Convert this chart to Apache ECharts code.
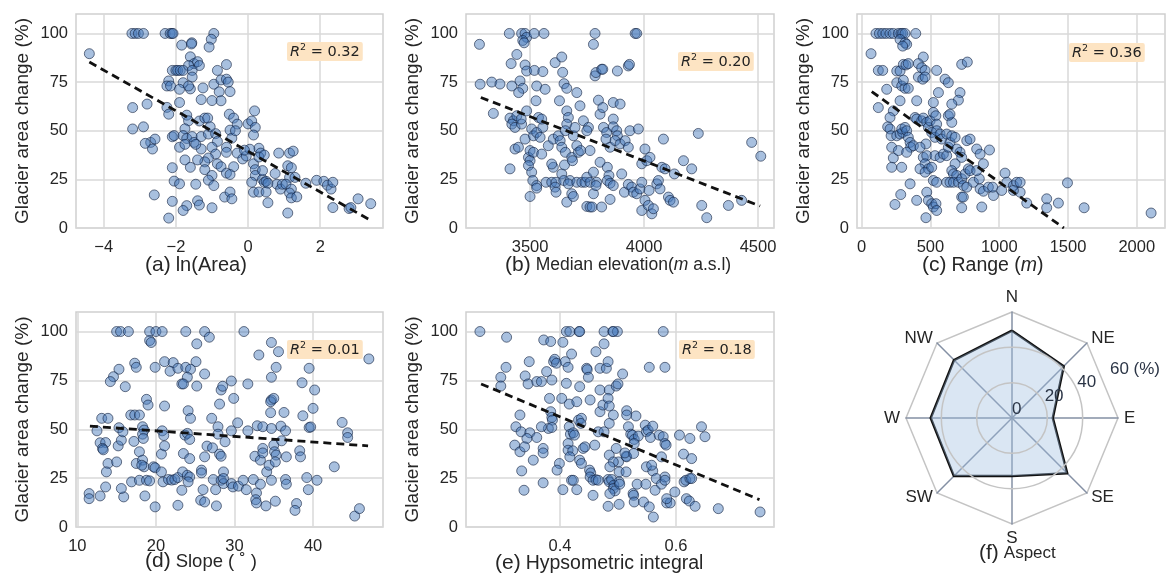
<!DOCTYPE html>
<html><head><meta charset="utf-8">
<script src="https://cdn.jsdelivr.net/npm/echarts@6/dist/echarts.min.js"></script>
<style>html,body{margin:0;padding:0;background:#fff}#c{width:1166px;height:574px}</style>
</head><body><div id="c"></div>
<script>
// ---------- DATA ----------
const yTicks = [0, 25, 50, 75, 100];
const lnAreaTicks = [-4, -2, 0, 2];
const elevTicks = [3500, 4000, 4500];
const rangeTicks = [0, 500, 1000, 1500, 2000];
const slopeTicks = [10, 20, 30, 40];
const hypsoTicks = [0.4, 0.6];

const r2Values = ['0.32', '0.20', '0.36', '0.01', '0.18'];

const lnAreaPts = [
[-3.22,100],[-3.13,100],[-3.04,100],[-2.9,100],[-2.3,100],[-2.16,100],[-2.11,100],[-2.08,100],[-0.95,100],
[-1.02,97],[-1.08,93],[-1.56,95.2],[-1.57,94.6],[-1.84,94],[-4.4,89.6],[-1.6,88],[-0.6,84],[-1.5,84.5],[-1.4,85.5],[-1.35,83.5],[-1.65,83.5],
[-2.1,81],[-2.0,81],[-1.95,81],[-1.88,81],[-1.8,81],[-1.55,81],[-0.85,81],[-1.55,77.6],[-2.2,75.6],[-2.25,73],[-2.15,73],[-1.8,74.7],[-1.9,71.3],[-1.6,71.5],[-1.65,73],[-1.25,72],[-0.95,73.9],[-0.75,76.1],[-0.6,76.5],[-0.55,75],[-0.5,70.1],[-0.8,70],[-0.75,65.4],[-1.0,65.5],[-1.3,66],[-1.9,64.5],[-3.2,61.9],[-2.8,63.7],[-2.25,62],[-2.2,58.5],[-1.7,58],[-1.65,55.1],[-1.35,55],[-1.2,56.5],[-1.12,56.5],[-0.52,58.5],[-0.4,56.5],[-0.3,53.4],[0.0,53.5],[0.1,55],[0.18,60.2],[0.2,51.7],[0.15,47.8],
[-3.2,50.9],[-2.9,52],[-2.7,44],[-2.85,43.5],[-2.58,45.7],[-2.65,40.6],[-2.1,46.9],[-2.05,47.5],[-1.75,51],[-1.8,47.5],[-1.7,46],[-1.55,47],[-1.5,44],[-1.3,47],[-1.1,48.3],[-1.05,52],[-0.9,48.5],[-0.85,44.5],[-0.5,50.3],[-0.45,46.2],[-0.35,50],[-0.6,41.5],[-0.6,38.9],[-0.3,38.5],[-0.15,35.5],[-0.05,37],[-1.3,40.6],[-1.45,43],[-1.9,41.5],[-1.75,43],[-1.0,41.5],[-0.9,38],[-0.85,33],[-0.75,31.5],[-1.1,36],[-1.2,34],[-1.4,35],[-1.75,35],[-1.6,31.2],[-2.1,31],[-1.2,30],[-0.4,31.5],[-0.6,28.2],[-0.5,27.5],[-1.0,27],[-1.1,24.6],[-0.95,21.8],[-2.05,24.1],[-1.9,22.7],[-1.45,22.5],[-0.65,15.9],[-0.5,18.5],[-0.45,15],[-2.6,17],[-2.1,13.7],[-1.4,14],[-1.35,11.8],[-1.7,11.5],[-1.8,9],[-1.0,10.4],[-2.2,5.1],
[0.15,33],[0.2,30],[0.3,41],[0.35,38.5],[0.3,36.5],[0.45,37.5],[0.2,27],[0.1,23.5],[0.15,18.4],[0.3,18.5],[0.4,25],[0.45,23.5],[0.5,24],[0.55,23],[0.5,18.5],[0.55,13],[0.75,28],[0.8,22.5],[0.9,20],[0.95,22.5],[0.85,38.5],[1.15,38.5],[1.25,39.5],[1.1,32],[1.2,31],[1.15,26],[1.05,22.5],[1.2,20],[1.15,18],[1.3,26],[1.2,15.5],[1.35,16],[1.1,7.7],[1.6,23],[1.9,24.5],[2.1,24],[2.2,22],[2.3,20],[2.35,23.5],[2.35,10.5],[2.8,10],[2.85,10.5],[3.05,15],[3.4,12.5],[0.05,40.5],[-0.1,40],[0.4,29.5]
];
const lnAreaFit = [[-4.4,85.3],[3.4,3.9]];

const elevPts = [
[3278,94.4],[3281,73.9],[3332,75],[3368,74],[3339,58.9],[3420,73],[3409,100],[3463,100],[3478,100],[3485,98],[3518,100],[3561,100],
[3468,96.4],[3474,95.2],[3442,89.2],[3417,84.5],[3478,83.8],[3485,80.7],[3456,75.6],[3468,71.8],[3450,69.6],
[3412,56.5],[3427,55.1],[3442,57.7],[3420,53.4],[3434,51.7],[3463,53.4],[3461,56],[3412,30.4],[3434,40.6],[3449,41.5],[3478,45.7],[3485,60.2],
[3493,36.3],[3500,34.6],[3493,32.1],[3500,39.8],[3515,38.9],[3507,28.7],[3512,24.4],[3529,21.8],[3529,20.5],[3500,16.2],[3507,50.9],[3515,47.4],[3529,49.1],[3544,46.6],[3556,51.7],[3537,56.8],
[3519,81],[3556,80.4],[3529,73],[3566,71.3],[3526,65.4],[3551,56],[3551,38],[3570,23.5],[3595,23.5],[3602,31.2],[3595,32.9],[3614,23.5],[3610,21],[3614,18.4],[3639,27.8],[3580,42.3],[3602,45.7],[3624,47.4],[3629,65.4],
[3610,85],[3639,87.9],[3643,80],[3649,74.2],[3661,71.8],[3661,60.2],[3668,56.8],[3661,53.4],[3655,50],[3632,44.9],[3639,41.5],[3655,38.9],[3651,32.4],[3648,24.4],[3675,24.4],[3668,22.7],[3683,17.6],[3661,13.3],[3690,16.2],
[3683,36.3],[3686,34.6],[3690,47.4],[3697,51.7],[3705,42.3],[3712,38.9],[3722,39.8],[3705,23.5],[3727,23.5],[3741,23.5],[3719,62.8],[3705,69.6],[3734,55.1],[3756,51.7],[3749,50],[3763,39.8],[3749,26.1],[3763,23.5],[3749,11.1],[3763,10.8],[3772,10.8],[3814,10.8],[3778,17.6],[3792,23.5],[3789,21.8],[3778,28.7],[3807,33.8],
[3778,94.4],[3785,100],[3785,78.2],[3789,79.9],[3814,81.6],[3819,81.6],[3800,65.7],[3807,58.5],[3819,61.9],[3822,51.7],[3836,49.1],[3833,45.7],[3851,41.5],[3839,31.2],[3846,27],[3839,24.4],[3851,23],[3865,21.8],[3851,14.7],
[3865,64.5],[3895,63.7],[3865,56],[3865,52],[3880,50],[3883,47.4],[3873,44.9],[3895,43.2],[3917,44.9],[3931,41.5],[3883,80.7],[3931,83.3],[3936,84.1],[3961,100],[3968,100],[3938,50],[3975,50.9],
[3902,27.8],[3914,18.4],[3931,22.4],[3946,21],[3953,18.4],[3968,17.6],[3982,20.1],[3990,23.5],[3990,33],[4004,40.6],[4012,34.6],[4026,36.3],[3990,9],[4004,14.2],[4019,11.6],[4034,7.3],[4041,9.9],[4022,19.3],[4056,22.7],[4063,24.4],[4070,20.1],[4078,31.2],[4085,45.7],[4092,30.4],[4107,15.9],[4114,14.2],[4129,13.3],[4133,27.8],[4173,34.6],[4209,30.4],[4238,48.6],[4253,11.6],[4275,5.3],[4370,11.6],[4428,14.2],[4472,44],[4512,36.9]
];
const elevFit = [[3284,67.1],[4509,11.3]];

const rangePts = [
[104,100],[129,100],[153,100],[177,100],[206,100],[230,100],[267,100],[286,100],[298,100],[315,100],[393,100],
[279,96.9],[315,95.2],[327,94.4],[298,93.5],[68,89.6],[448,87.9],[121,81],[153,81],[255,80.7],[279,80.7],[303,84.1],[322,83.8],[339,84.5],[412,84.5],[436,82.4],[461,81],[545,81],[412,77.6],[444,76.5],[461,77.6],[255,74.7],[291,73],[315,71.8],[339,71.8],[182,71.3],[303,76],[279,65.4],[400,65.4],[121,61.9],[230,60.2],[206,56.8],
[189,52],[206,50.9],[214,47.4],[218,41.5],[230,36],[267,39.8],[255,47.4],[279,48.3],[298,49.1],[291,50.9],[315,51.7],[327,50],[339,46.6],[352,44],[356,41.5],[376,42.3],[388,56.8],[400,56],[436,55.1],[448,56.5],[473,54.3],[485,51.7],[497,55.1],[521,59.4],[539,57.7],[545,53.4],[509,49.1],[533,46.6],[545,50],[570,48.3],[582,45.7],[467,43.2],[424,41.5],
[448,36.3],[473,37.2],[461,33],[424,30.4],[485,30.4],[461,28.7],[509,31.2],[521,24.4],[545,23.5],[533,37.2],[570,36.3],[594,38],[618,37.2],[630,41.5],[642,44],[618,48.3],[630,57.7],[655,54.3],[655,47.4],[558,69.6],[521,64.5],[473,18.4],[485,14.2],[509,12.5],[521,10.8],[540,12.5],[467,5.3],[545,9],[284,17.2],[352,22.7],[400,14.2],[242,12.1],[218,31.2],[291,31.2],[327,38.9],
[606,76.5],[630,74.7],[715,69.6],[703,65.7],[727,84.1],[768,85.3],[655,63.7],[642,58.5],[679,46.6],[691,40.6],[715,38.9],[727,36.3],[764,44.9],[788,45.7],[679,33],[655,29.5],[667,27.8],[691,27],[618,23.5],[642,23.5],[667,23.5],[703,23.5],[727,25.3],[739,21.8],[764,21],[752,27.8],[776,30.4],[788,29.5],[812,23.5],[727,15.9],[739,15.9],[727,10.4],
[836,40.6],[861,38],[885,33],[855,25.3],[836,29.5],[861,20.1],[885,18.9],[873,10.8],[921,21],[929,40.1],[958,16.7],[952,21],[1018,19.3],[1042,28.2],[1055,23.5],[1103,21.8],[1127,23.5],[1152,23.5],[1152,18.4],[1103,19.3],[1200,12.8],[1345,15],[1345,10.4],[1430,12.8],[1496,23.2],[1617,10.4],[2104,7.7]
];
const rangeFit = [[73,70.1],[1470,0]];

const slopePts = [
[15.0,100],[15.5,100],[16.5,100],[19.2,100],[20.0,100],[20.8,100],[23.8,100],[26.2,100],[31.2,100],
[26.8,97.1],[25.2,93.7],[19.2,95.4],[19.4,94.4],[34.7,94.4],[35.6,89.7],[33.1,88],[47.1,86],[19.9,81.7],[21.1,84.6],[22.2,84.1],[25.1,84.6],[17.3,83.8],[17.5,81.7],[15.3,80.7],[21.8,79.7],[22.8,81.2],[23.8,81.7],[24.4,80.7],[24,76.6],[23.3,73.2],[23.5,73.2],[25.2,72.1],[26.2,78.3],[14.6,76.9],[14.2,74.4],[16.1,71.8],[29.6,74.7],[28.3,70.1],[28.5,72],[31.7,73.2],[34.7,76.6],[35.3,81.7],[39.5,81.2],[38.6,73.8],[40.2,70.1],
[29.9,65.8],[28.1,62.9],[21.1,61.9],[18.8,65.3],[19,62.4],[34.7,65],[34.6,64.1],[35,65.8],[34.6,58.5],[36.3,58.6],[40,60.7],[38.7,56.9],[24.1,59.5],[24.4,55.6],[27.1,55.6],[30.4,53.3],[43.7,53.5],[32.9,51.8],[33.6,51.3],[35.9,51.6],[34.7,50.4],[39.5,50.9],[39.7,51.2],[31.7,49.2],[29.6,49.2],[27.9,51.3],[27.9,47.5],[36.5,49.2],[44.4,48.2],[44.4,45.8],
[13.1,55.6],[13.9,55.6],[12.5,49.2],[12.9,43.1],[13.6,43.2],[13.2,40.2],[13.3,39.5],[13.9,32.5],[13.7,28.2],[13.6,20.5],[11.5,17.1],[11.5,14.5],[12.9,15.9],[15.3,50.8],[15.2,41.5],[15.6,44.4],[15,33.3],[15.8,48.7],[16.8,57.3],[17.3,57.3],[17.9,57.3],[17.2,43.8],[17.5,32.5],[16.9,23.1],[17.9,23.9],[15.9,15.4],[15.6,19.7],[17.9,38.5],
[18.3,51.3],[18.5,49.6],[18.3,47.5],[18.4,45.3],[18.3,34.2],[18.5,30.8],[18.2,31.6],[18.8,23.9],[19.2,23.6],[18.6,15.9],[19.7,30.8],[19.9,30.3],[19.9,10.3],[20.8,49.2],[21,46.8],[20.7,37.3],[21.1,41.5],[20.7,28.2],[20.9,23.1],[21.6,24.3],[22,24],[22.4,24.3],[22.8,25.3],[22.8,11.1],[23.3,18.8],[23.5,37.6],[23.4,28.2],[23.7,47],[24,47.9],[24.3,44.8],[24.3,35],[24,26.5],[24.3,25.6],[24.1,23.1],
[25.8,29.1],[25.8,27.7],[25.7,13.7],[26.2,12.8],[26,19.1],[26.2,35.9],[26.5,41.4],[27.2,40.5],[27.3,24.3],[27.7,10.8],[27.6,19.1],[28.1,37.3],[28.3,23.9],[28.6,28.2],[28.6,22.2],[28.3,36.2],[28.8,43.6],[28.6,24.8],[29.6,22.2],[29.8,20.5],[30.5,20.9],[31.1,23.9],[31.5,19.1],[32.4,24.3],[32.6,36.2],[32.8,17.4],[32.7,14],[32.8,12.3],[33.3,21.9],[33.6,40.2],[33.3,34.2],[34,10.8],[33.6,37.9],[34.1,28.2],[34.4,31.6],[34.7,23.9],[35,41.9],[35.1,38.5],[35.3,36.8],[35.2,33.3],[35.2,13.2],[36.5,24.3],[36.6,21.9],[36.6,35.9],[36,44.1],[38.3,39],[38.4,35.9],[37.9,12],[37.7,8.5],[39.2,25.3],[39.4,19.1],[40.5,23.9],[42.7,30.8],[45.3,5.6],[45.9,9.4]
];
const slopeFit = [[11.6,51.6],[47,41.5]];

const hypsoPts = [
[0.262,100],[0.308,97.1],[0.307,81.7],[0.298,76.6],[0.298,72.1],[0.34,77.3],[0.347,84.6],[0.345,73.2],[0.36,74.4],[0.368,74.4],[0.372,95.7],[0.384,94.9],[0.389,84.6],[0.391,85.8],[0.394,83.8],[0.377,79.5],[0.386,75.2],
[0.405,94.5],[0.411,100],[0.417,100],[0.433,100],[0.434,100],[0.42,88.5],[0.409,84.6],[0.414,81.7],[0.446,81.2],[0.447,80.5],[0.449,76.6],[0.434,71.8],[0.411,73.5],[0.403,65.8],[0.416,62.9],[0.429,64.1],[0.452,65],[0.382,65.8],[0.384,59],[0.386,56.1],[0.387,54.7],[0.38,50.4],[0.386,50.9],[0.368,51.3],
[0.331,57.3],[0.324,51.3],[0.333,48.7],[0.348,48.2],[0.36,45.8],[0.343,45.3],[0.322,41.9],[0.331,38.5],[0.339,41],[0.371,40.2],[0.371,37.9],[0.354,34.2],[0.334,28.7],[0.371,22.6],[0.338,18.8],[0.399,32.5],[0.395,29.1],[0.405,19.1],
[0.416,51.3],[0.418,47.5],[0.423,48.2],[0.425,47],[0.414,42.7],[0.414,39.3],[0.422,39],[0.417,35.9],[0.42,23.9],[0.423,23.9],[0.429,19.1],[0.432,54.7],[0.437,55.6],[0.436,53],[0.44,40.2],[0.443,41],[0.434,34.2],[0.437,32.5],[0.451,29.1],[0.453,27.7],[0.452,25.6],[0.457,23.9],[0.462,24.2],[0.466,23.9],[0.457,16.2],[0.46,41.9],[0.466,48.7],[0.469,59],[0.474,62.4],[0.469,70.1],[0.469,81.2],
[0.476,93.7],[0.476,100],[0.491,100],[0.499,100],[0.492,100],[0.462,89.7],[0.48,81.2],[0.483,84.6],[0.485,70.1],[0.483,65.8],[0.485,61.9],[0.497,72.1],[0.5,73.2],[0.508,78.3],[0.485,53],[0.492,57.3],[0.476,48.7],[0.485,36.8],[0.497,40.2],[0.501,33.3],[0.492,33.3],[0.486,30.8],[0.483,24.3],[0.485,23.1],[0.489,24.3],[0.493,21.4],[0.492,19.7],[0.495,18.5],[0.486,17.1],[0.502,23.1],[0.503,21.9],[0.502,28.2],[0.483,10.6],[0.502,11.6],
[0.514,36.2],[0.515,35.9],[0.512,37.9],[0.514,28.2],[0.515,59.5],[0.515,57.3],[0.518,51.3],[0.522,47.5],[0.525,47],[0.528,44.8],[0.531,56.8],[0.535,46.5],[0.527,37.6],[0.528,42.7],[0.526,17.1],[0.527,16.2],[0.528,12.8],[0.533,21.9],[0.544,12.8],[0.548,21.9],[0.549,30.8],[0.547,52.1],[0.549,48.7],[0.552,49.5],[0.56,51.6],[0.554,10.3],[0.561,5.1],[0.564,18.8],[0.56,28.7],[0.558,31.6],[0.556,45.8],[0.566,24.8],[0.575,35.9],[0.575,21.9],[0.571,47],[0.578,46.2],[0.581,42.7],[0.583,41.9],[0.581,25.6],[0.581,23.9],[0.584,12.3],[0.59,12.3],[0.584,14.5],[0.578,100],[0.581,81.7],[0.554,81.7],
[0.598,17.9],[0.606,47],[0.613,37.3],[0.614,23.1],[0.617,23.9],[0.624,24.8],[0.627,24.8],[0.624,45.3],[0.627,35],[0.618,14.5],[0.623,13.3],[0.633,10.6],[0.644,51.3],[0.65,46.2],[0.673,9.4],[0.745,7.7]
];
const hypsoFit = [[0.264,73.2],[0.744,14]];

const aspectNames = ['N', 'NW', 'W', 'SW', 'S', 'SE', 'E', 'NE'];
const aspectValues = [49.4, 46.4, 46.0, 46.5, 32.9, 44.2, 23.1, 41.4];

// ---------- CHART ----------
const FONT = "'Liberation Sans', Arial, Helvetica, sans-serif";
const TXT = '#262626';

const grids = [
  {left: 76, top: 14, width: 307, height: 214},
  {left: 466, top: 14, width: 308, height: 214},
  {left: 857, top: 14, width: 308, height: 214},
  {left: 76, top: 312, width: 307, height: 215},
  {left: 466, top: 312, width: 308, height: 215}
];
const xRanges = [[-4.77, 3.74], [3219, 4570], [-34, 2205], [9.83, 48.9], [0.238, 0.769]];
const xTickSets = [lnAreaTicks, elevTicks, rangeTicks, slopeTicks, hypsoTicks];
const ptSets = [lnAreaPts, elevPts, rangePts, slopePts, hypsoPts];
const fitSets = [lnAreaFit, elevFit, rangeFit, slopeFit, hypsoFit];

const minus = v => String(v).replace('-', '\u2212');

const option = {
  backgroundColor: '#fff',
  animation: false,
  textStyle: {fontFamily: FONT},
  grid: grids.map(g => Object.assign({show: true, borderColor: '#cfcfcf', borderWidth: 1.5, backgroundColor: '#fff', containLabel: false}, g)),
  xAxis: grids.map((g, i) => ({
    type: 'value', gridIndex: i, min: xRanges[i][0], max: xRanges[i][1],
    axisLine: {show: false}, axisTick: {show: false, customValues: xTickSets[i]},
    axisLabel: {customValues: xTickSets[i], fontSize: 16.5, color: TXT, margin: 11, fontFamily: FONT, formatter: minus},
    splitLine: {show: true, lineStyle: {color: '#d9d9d9', width: 1.5}}
  })),
  yAxis: grids.map((g, i) => ({
    type: 'value', gridIndex: i, min: 0, max: 110,
    name: 'Glacier area change (%)', nameLocation: 'middle', nameGap: 44,
    nameTextStyle: {fontSize: 19, color: TXT, fontFamily: FONT},
    axisLine: {show: false}, axisTick: {show: false, customValues: yTicks},
    axisLabel: {customValues: yTicks, fontSize: 16.5, color: TXT, margin: 8, fontFamily: FONT},
    splitLine: {show: true, lineStyle: {color: '#d9d9d9', width: 1.5}}
  })),
  radar: {
    center: [1012, 418], radius: 106, startAngle: 90, shape: 'polygon', splitNumber: 1,
    indicator: aspectNames.map(n => ({name: n, min: 0, max: 60})),
    axisName: {color: TXT, fontSize: 17, fontFamily: FONT},
    nameGap: 6,
    splitLine: {lineStyle: {color: '#c4c4c4', width: 1.5}},
    splitArea: {show: false},
    axisLine: {lineStyle: {color: '#8490a4', width: 1.5}},
    axisTick: {show: false}, axisLabel: {show: false}
  },
  polar: {center: [1012, 418], radius: 106},
  angleAxis: {type: 'value', min: 0, max: 360, startAngle: 22.5, show: false},
  radiusAxis: {
    type: 'value', min: 0, max: 60, interval: 20, z: 5,
    axisLine: {show: false}, axisTick: {show: false},
    axisLabel: {show: true, fontSize: 17, color: '#2b3546', fontFamily: FONT, margin: 0, rotate: 0,
      align: 'left', verticalAlign: 'bottom',
      formatter: v => v === 60 ? '60 (%)' : String(v)},
    splitLine: {show: true, lineStyle: {color: ['#c4c4c4', '#c4c4c4', '#c4c4c4', 'rgba(0,0,0,0)'], width: 1.5}}
  },
  title: [],
  series: []
};

// x-axis captions
const mkRich = ts => ({
  p: {fontSize: 21, color: TXT, fontFamily: FONT, fontWeight: 'normal'},
  t: {fontSize: ts, color: TXT, fontFamily: FONT, fontWeight: 'normal'},
  ti: {fontSize: ts, color: TXT, fontFamily: FONT, fontWeight: 'normal', fontStyle: 'italic'}
});
const captions = [
  {text: '{p|(a)} {t|ln(Area)}', left: 145, top: 255, ts: 20},
  {text: '{p|(b)} {t|Median elevation(}{ti|m}{t| a.s.l)}', left: 505, top: 255, ts: 17.5},
  {text: '{p|(c)} {t|Range (}{ti|m}{t|)}', left: 922, top: 255, ts: 19.5},
  {text: '{p|(d)} {t|Slope ( \u02da )}', left: 145, top: 551, ts: 18.5},
  {text: '{p|(e)} {t|Hypsometric integral}', left: 495, top: 553, ts: 19.5},
  {text: '{p|(f)} {t|Aspect}', left: 979, top: 543, ts: 17}
];
captions.forEach(c => option.title.push({text: c.text, left: c.left, top: c.top, padding: 0,
  textStyle: {fontWeight: 'normal', rich: mkRich(c.ts)}}));

// R² boxes
const r2Pos = [[287, 42], [678, 52], [1069, 43], [287, 340], [679, 340]];
const r2Rich = {
  i: {fontSize: 14.5, fontStyle: 'italic', fontWeight: 'normal', color: '#222', fontFamily: 'DejaVu Sans', lineHeight: 19},
  s: {fontSize: 9.5, fontWeight: 'normal', color: '#222', fontFamily: 'DejaVu Sans', verticalAlign: 'top', lineHeight: 10},
  n: {fontSize: 14.5, fontWeight: 'normal', color: '#222', fontFamily: 'DejaVu Sans', lineHeight: 19}
};
r2Values.forEach((v, i) => option.title.push({
  text: '{i|R}{s|2}{n| = ' + v + '}', left: r2Pos[i][0], top: r2Pos[i][1],
  backgroundColor: '#fde4c3', padding: [1, 3, 1, 3], borderRadius: 2,
  textStyle: {fontWeight: 'normal', rich: r2Rich}
}));

// scatter + regression
ptSets.forEach((pts, i) => {
  option.series.push({
    type: 'scatter', xAxisIndex: i, yAxisIndex: i, data: pts, symbolSize: 10,
    itemStyle: {color: 'rgba(68,118,185,0.58)', borderColor: 'rgba(15,30,60,0.75)', borderWidth: 1}
  });
  option.series.push({
    type: 'line', xAxisIndex: i, yAxisIndex: i, data: fitSets[i], symbol: 'none', z: 5,
    lineStyle: {color: '#111', width: 2.8, type: [8, 5]}
  });
});

option.series.push({
  type: 'radar', radarIndex: 0, symbol: 'none', z: 3,
  data: [{value: aspectValues}],
  lineStyle: {color: '#111', width: 2.5},
  areaStyle: {color: 'rgba(160,190,225,0.55)'}
});

const chart = echarts.init(document.getElementById('c'), null, {renderer: 'canvas'});
chart.setOption(option);
</script>
</body></html>
